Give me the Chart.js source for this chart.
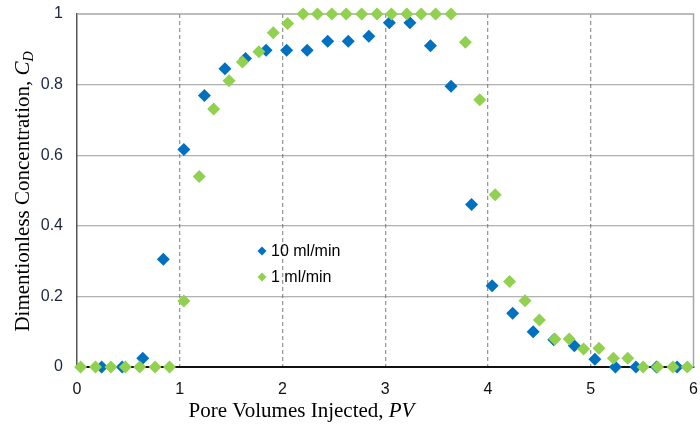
<!DOCTYPE html>
<html>
<head>
<meta charset="utf-8">
<script src="https://cdn.jsdelivr.net/npm/chart.js@4.4.0/dist/chart.umd.min.js"></script>
<style>
  html, body { margin: 0; padding: 0; background: #fff; }
  #wrap { width: 700px; height: 427px; position: relative; }
</style>
</head>
<body>
<div id="wrap"><canvas id="chart"></canvas></div>
<script>
// 10 ml/min
const pv10 = [0.24, 0.44, 0.64, 0.84, 1.04, 1.24, 1.44, 1.64, 1.84, 2.04, 2.24, 2.44, 2.64, 2.84, 3.04,
  3.24, 3.44, 3.64, 3.84, 4.04, 4.24, 4.44, 4.64, 4.84, 5.04, 5.24, 5.44, 5.64, 5.84];
const cd10 = [0, 0, 0.025, 0.305, 0.616, 0.769, 0.845, 0.874, 0.897, 0.897, 0.897, 0.923, 0.923, 0.937, 0.975,
  0.975, 0.91, 0.795, 0.46, 0.23, 0.152, 0.10, 0.077, 0.06, 0.022, 0, 0, 0, 0];

// 1 ml/min
const pv1 = [0.035, 0.18, 0.33, 0.47, 0.61, 0.76, 0.90, 1.04, 1.19, 1.33, 1.48, 1.61, 1.77, 1.91,
  2.05, 2.20, 2.34, 2.48, 2.62, 2.77, 2.92, 3.06, 3.21, 3.35, 3.49, 3.64, 3.78, 3.92,
  4.07, 4.21, 4.36, 4.50, 4.65, 4.79, 4.93, 5.08, 5.22, 5.36, 5.51, 5.65, 5.80, 5.94];
const cd1 = [0, 0, 0, 0, 0, 0, 0, 0.187, 0.54, 0.731, 0.811, 0.864, 0.893, 0.947,
  0.973, 1, 1, 1, 1, 1, 1, 1, 1, 1, 1, 1, 0.92, 0.757,
  0.488, 0.242, 0.188, 0.133, 0.079, 0.079, 0.051, 0.053, 0.025, 0.025, 0, 0, 0, 0];

const seriesNames = ['10 ml/min', '1 ml/min'];
const xTicks = [0, 1, 2, 3, 4, 5, 6];
const yTicks = [0, 0.2, 0.4, 0.6, 0.8, 1];
const yTickLabels = ['0', '0.2', '0.4', '0.6', '0.8', '1'];

const BLUE = '#0070C0';
const GREEN = '#92D050';
const SERIF = '"Liberation Serif", "Times New Roman", serif';
const SANS = '"Liberation Sans", Arial, sans-serif';

const toPoints = (xs, ys) => xs.map((x, i) => ({ x: x, y: ys[i] }));

// frame, axis titles and the in-plot legend
const decorations = {
  id: 'decorations',
  beforeDatasetsDraw(chart) {
    const { ctx, chartArea: a } = chart;
    ctx.save();
    ctx.strokeStyle = '#a6a6a6';
    ctx.lineWidth = 1.5;
    ctx.beginPath();
    ctx.moveTo(a.left, a.top);
    ctx.lineTo(a.right, a.top);
    ctx.lineTo(a.right, a.bottom);
    ctx.stroke();
    ctx.restore();
  },
  afterDraw(chart) {
    const { ctx } = chart;
    ctx.save();
    ctx.fillStyle = '#000';
    ctx.textBaseline = 'alphabetic';

    // x title
    ctx.font = '21px ' + SERIF;
    const xa = 'Pore Volumes Injected, ';
    const wa = ctx.measureText(xa).width;
    ctx.font = 'italic 21px ' + SERIF;
    const wb = ctx.measureText('PV').width;
    let x0 = 301.5 - (wa + wb) / 2;
    ctx.font = '21px ' + SERIF;
    ctx.fillText(xa, x0, 417);
    ctx.font = 'italic 21px ' + SERIF;
    ctx.fillText('PV', x0 + wa, 417);

    // y title
    ctx.translate(29, 191.5);
    ctx.rotate(-Math.PI / 2);
    ctx.font = '21px ' + SERIF;
    const ya = 'Dimentionless Concentration, ';
    const ywa = ctx.measureText(ya).width;
    ctx.font = 'italic 21px ' + SERIF;
    const ywc = ctx.measureText('C').width;
    ctx.font = 'italic 14px ' + SERIF;
    const ywd = ctx.measureText('D').width;
    let y0 = -(ywa + ywc + ywd) / 2;
    ctx.font = '21px ' + SERIF;
    ctx.fillText(ya, y0, 0);
    ctx.font = 'italic 21px ' + SERIF;
    ctx.fillText('C', y0 + ywa, 0);
    ctx.font = 'italic 14px ' + SERIF;
    ctx.fillText('D', y0 + ywa + ywc, 4);
    ctx.restore();

    // legend
    ctx.save();
    ctx.font = '16px ' + SANS;
    ctx.textBaseline = 'middle';
    [[BLUE, 251], [GREEN, 277]].forEach((item, i) => {
      const [col, y] = item;
      ctx.fillStyle = col;
      ctx.beginPath();
      ctx.moveTo(262, y - 4.5);
      ctx.lineTo(266.5, y);
      ctx.lineTo(262, y + 4.5);
      ctx.lineTo(257.5, y);
      ctx.closePath();
      ctx.fill();
      ctx.fillStyle = '#000';
      ctx.fillText(seriesNames[i], 271, y + 1);
    });
    ctx.restore();
  }
};

const endsHidden = (last, col) => (c) => {
  const v = c.tick ? c.tick.value : null;
  return (v === 0 || v === last) ? 'rgba(0,0,0,0)' : col;
};

new Chart(document.getElementById('chart'), {
  type: 'scatter',
  data: {
    datasets: [
      {
        label: seriesNames[0],
        data: toPoints(pv10, cd10),
        backgroundColor: BLUE,
        borderWidth: 0,
        pointStyle: 'rectRot',
        pointRadius: 6.5,
        clip: false,
        order: 1
      },
      {
        label: seriesNames[1],
        data: toPoints(pv1, cd1),
        backgroundColor: GREEN,
        borderWidth: 0,
        pointStyle: 'rectRot',
        pointRadius: 6.5,
        clip: false,
        order: 0
      }
    ]
  },
  options: {
    responsive: true,
    maintainAspectRatio: false,
    animation: false,
    layout: { padding: { top: 14, right: 5, left: 0, bottom: 0 } },
    plugins: {
      legend: { display: false },
      tooltip: { enabled: false }
    },
    scales: {
      x: {
        type: 'linear',
        min: 0,
        max: 6,
        afterBuildTicks: (s) => { s.ticks = xTicks.map(v => ({ value: v })); },
        afterFit: (s) => { s.height = 60; s.paddingLeft = 0; s.paddingRight = 0; },
        ticks: {
          font: { family: SANS, size: 16 },
          color: '#111',
          padding: 13,
          maxRotation: 0,
          autoSkip: false
        },
        grid: { color: endsHidden(6, '#999'), lineWidth: 1.3, drawTicks: false },
        border: { color: '#111', width: 2, dash: [4, 3] }
      },
      y: {
        type: 'linear',
        min: 0,
        max: 1,
        afterBuildTicks: (s) => { s.ticks = yTicks.map(v => ({ value: v })); },
        afterFit: (s) => { s.width = 77; s.paddingTop = 0; s.paddingBottom = 0; },
        ticks: {
          font: { family: SANS, size: 16 },
          color: '#1b2540',
          padding: 14,
          autoSkip: false,
          callback: (v, i) => yTickLabels[i]
        },
        grid: { color: endsHidden(1, '#666'), lineWidth: 1.3, drawTicks: false },
        border: { color: '#555', width: 1.5, dash: [1, 1] }
      }
    }
  },
  plugins: [decorations]
});
</script>
</body>
</html>
